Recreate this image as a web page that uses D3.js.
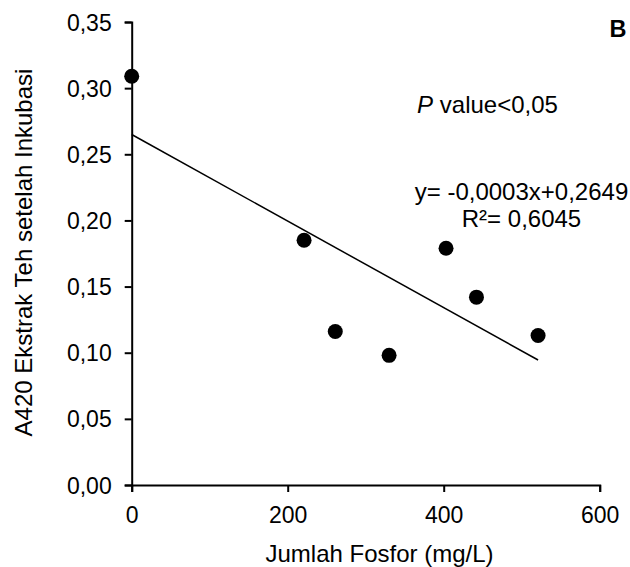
<!DOCTYPE html>
<meta charset="utf-8">
<style>
    body { margin: 0; background: #fff; }
    svg { font-family: "Liberation Sans", Arial, sans-serif; }
    .axis path, .axis line { stroke: #000; stroke-width: 2; fill: none; }
    .axis text { font-size: 23px; fill: #000; }
</style>
<body>
<script src="https://cdn.jsdelivr.net/npm/d3@7"></script>
<script>
    // data
    const fosfor = [0, 221, 261, 330, 403, 442, 521];
    const absorbansi = [0.309, 0.185, 0.116, 0.098, 0.179, 0.142, 0.113];
    const yTicks = [0, 0.05, 0.10, 0.15, 0.20, 0.25, 0.30, 0.35];
    const xTicks = [0, 200, 400, 600];

    const width = 630, height = 567;
    const margin = {top: 22, right: 30.3, bottom: 82, left: 131.7};

    const locale = d3.formatLocale({decimal: ",", thousands: ".", grouping: [3], currency: ["", ""]});
    const fmt = locale.format(".2f");

    const svg = d3.select("body").append("svg")
        .attr("width", width)
        .attr("height", height);

    const x = d3.scaleLinear().domain([0, 600]).range([margin.left, width - margin.right]);
    const y = d3.scaleLinear().domain([0, 0.35]).range([height - margin.bottom, margin.top]);

    // x axis
    const gX = svg.append("g")
        .attr("class", "axis")
        .attr("transform", "translate(0," + y(0) + ")")
        .call(d3.axisBottom(x).tickValues(xTicks).tickSize(7).tickSizeOuter(7).tickPadding(14));
    gX.selectAll("text").attr("dy", "0.75em");

    // y axis
    const gY = svg.append("g")
        .attr("class", "axis")
        .attr("transform", "translate(" + x(0) + ",0)")
        .call(d3.axisLeft(y).tickValues(yTicks).tickFormat(fmt).tickSize(7).tickSizeOuter(7).tickPadding(13));
    gY.selectAll("text").attr("dy", "0.35em");

    // trend line (least squares)
    const n = fosfor.length;
    const mx = d3.mean(fosfor), my = d3.mean(absorbansi);
    let sxy = 0, sxx = 0;
    for (let i = 0; i < n; i++) {
        sxy += (fosfor[i] - mx) * (absorbansi[i] - my);
        sxx += (fosfor[i] - mx) ** 2;
    }
    const slope = sxy / sxx;
    const intercept = my - slope * mx;
    const x0 = d3.min(fosfor), x1 = d3.max(fosfor);

    svg.append("line")
        .attr("x1", x(x0)).attr("y1", y(intercept + slope * x0))
        .attr("x2", x(x1)).attr("y2", y(intercept + slope * x1))
        .attr("stroke", "#000")
        .attr("stroke-width", 1.5);

    // points
    svg.selectAll(".dot")
        .data(fosfor)
        .enter().append("circle")
        .attr("class", "dot")
        .attr("cx", d => x(d))
        .attr("cy", (d, i) => y(absorbansi[i]))
        .attr("r", 7.5)
        .attr("fill", "#000");

    // axis titles
    svg.append("text")
        .attr("x", 379.5)
        .attr("y", 561.5)
        .attr("text-anchor", "middle")
        .attr("font-size", 24)
        .text("Jumlah Fosfor (mg/L)");

    svg.append("text")
        .attr("transform", "translate(31.5,252.5) rotate(-90)")
        .attr("text-anchor", "middle")
        .attr("font-size", 24)
        .text("A420 Ekstrak Teh setelah Inkubasi");

    // annotations
    const pText = svg.append("text")
        .attr("x", 487.5)
        .attr("y", 113)
        .attr("text-anchor", "middle")
        .attr("font-size", 24);
    pText.append("tspan").attr("font-style", "italic").text("P");
    pText.append("tspan").text(" value<0,05");

    svg.append("text")
        .attr("x", 521.5)
        .attr("y", 200)
        .attr("text-anchor", "middle")
        .attr("font-size", 24)
        .text("y= -0,0003x+0,2649");

    svg.append("text")
        .attr("x", 521.5)
        .attr("y", 226.5)
        .attr("text-anchor", "middle")
        .attr("font-size", 24)
        .text("R²= 0,6045");

    svg.append("text")
        .attr("x", 609.5)
        .attr("y", 36.5)
        .attr("font-size", 23.5)
        .attr("font-weight", "bold")
        .text("B");
</script>
</body>
</html>
